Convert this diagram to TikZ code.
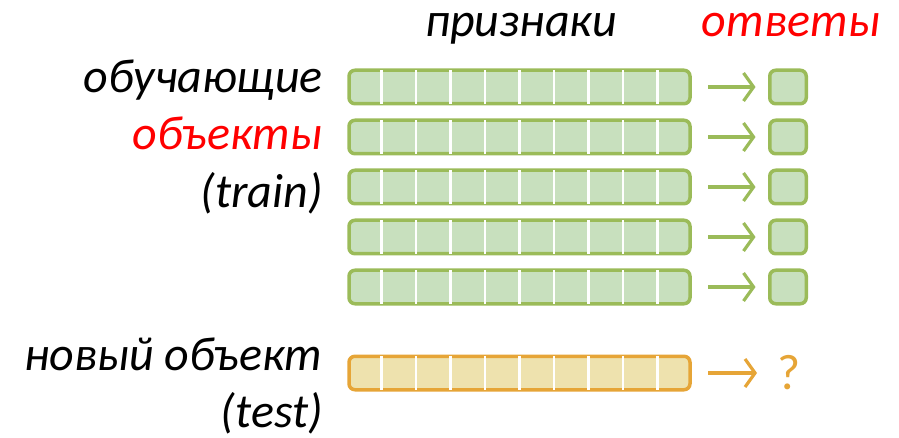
\documentclass[tikz,border=0pt]{standalone}
\usepackage{fontspec}
\setmainfont{Carlito}
\usetikzlibrary{arrows.meta}
\usetikzlibrary{calc}
\definecolor{featfill}{RGB}{200,224,190}
\definecolor{featline}{RGB}{155,187,89}
\definecolor{testfill}{RGB}{238,226,174}
\definecolor{testline}{RGB}{230,165,55}
\begin{document}
\begin{tikzpicture}
[x=1pt,y=-1pt,
  rowdecorate/.style={shape=rectangle,rounded corners=6pt,line width=3.5pt,
    minimum width=341pt,minimum height=33.5pt,inner sep=0pt},
  ansdecorate/.style={shape=rectangle,rounded corners=6pt,line width=3.5pt,
    draw=featline,fill=featfill,minimum width=36.5pt,minimum height=33.5pt,inner sep=0pt},
  celldecorate/.style={white,line width=2.5pt,shorten <=1.75pt,shorten >=1.75pt},
  arrowdecorate/.style={line width=3.2pt,-{Straight Barb[length=10pt,width=28pt]}},
  labeldecorate/.style={font=\itshape\fontsize{48}{52}\selectfont,inner sep=0pt}]
\useasboundingbox (0,0) rectangle (899,438);
%% column headers
\node (featlabel) at (521,37) [labeldecorate,anchor=base] {признаки};
\node (anslabel) at (791,37) [labeldecorate,anchor=base,text=red] {ответы};
%% training objects and their answers
\foreach \rowname/\y in {t1/87, t2/137, t3/187, t4/237, t5/287}
{
  \node (\rowname) at (519.5,\y) [rowdecorate,draw=featline,fill=featfill] {};
  \node (a\rowname) at (788,\y) [ansdecorate] {};
  \draw[arrowdecorate,featline,shorten <=16.5pt,shorten >=12.5pt] (\rowname) -- (a\rowname);
}
%% new object
\node (test) at (519.5,373) [rowdecorate,draw=testline,fill=testfill] {};
\node (q) at (789,389) [font=\fontsize{50}{52}\selectfont,inner sep=0pt,anchor=base,text=testline] {?};
\draw[arrowdecorate,testline,shorten <=16.5pt,shorten >=32pt] (test) -- (test -| q);
%% cells
\foreach \rowname in {t1,t2,t3,t4,t5,test}
  \foreach \k in {1,...,9}
    \draw[celldecorate] ($(\rowname.north west)!\k/10!(\rowname.north east)$)
      -- ($(\rowname.south west)!\k/10!(\rowname.south east)$);
%% left labels
\foreach \text/\y/\colour in {обучающие/93/black, объекты/150/red, (train)/208/black,
  новый объект/370/black, (test)/427/black}
{
  \node at (323,\y) [labeldecorate,anchor=base east,text=\colour] {\text};
}
\end{tikzpicture}
\end{document}
